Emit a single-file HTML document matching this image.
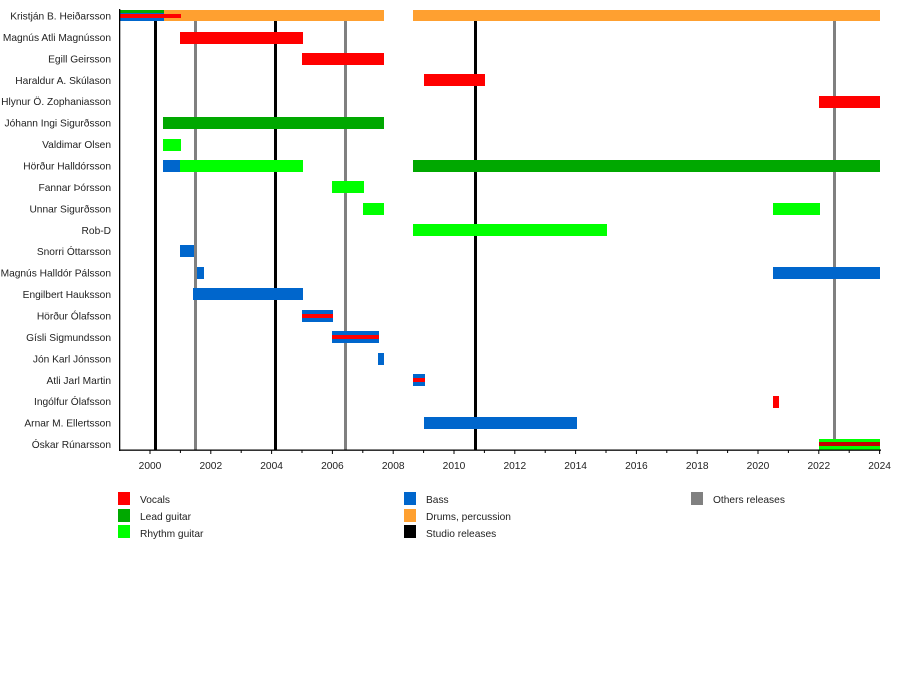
<!DOCTYPE html>
<html><head><meta charset="utf-8"><style>body{margin:0;background:#fff}svg{display:block}text{font-family:"Liberation Sans",sans-serif;font-size:10.2px;fill:#222}</style></head><body>
<svg width="900" height="690" xmlns="http://www.w3.org/2000/svg">
<g id="lines">
<rect x="154" y="10" width="3" height="440" fill="#000"/>
<rect x="274" y="10" width="3" height="440" fill="#000"/>
<rect x="474" y="10" width="3" height="440" fill="#000"/>
<rect x="194" y="10" width="3" height="440" fill="#808080"/>
<rect x="344" y="10" width="3" height="440" fill="#808080"/>
<rect x="833" y="10" width="3" height="440" fill="#808080"/>
</g>
<g id="bars">
<rect x="120" y="10" width="264" height="11" fill="#ffa030"/>
<rect x="413" y="10" width="467" height="11" fill="#ffa030"/>
<rect x="120" y="10" width="44" height="3" fill="#00a800"/>
<rect x="120" y="13" width="44" height="8" fill="#0066cc"/>
<rect x="120" y="14" width="61" height="4" fill="#f00"/>
<rect x="180" y="32" width="123" height="12" fill="#f00"/>
<rect x="302" y="53" width="82" height="12" fill="#f00"/>
<rect x="424" y="74" width="61" height="12" fill="#f00"/>
<rect x="819" y="96" width="61" height="12" fill="#f00"/>
<rect x="163" y="117" width="221" height="12" fill="#00a800"/>
<rect x="163" y="139" width="18" height="12" fill="#00ff00"/>
<rect x="163" y="160" width="17" height="12" fill="#0066cc"/>
<rect x="180" y="160" width="123" height="12" fill="#00ff00"/>
<rect x="413" y="160" width="467" height="12" fill="#00a800"/>
<rect x="332" y="181" width="32" height="12" fill="#00ff00"/>
<rect x="363" y="203" width="21" height="12" fill="#00ff00"/>
<rect x="773" y="203" width="47" height="12" fill="#00ff00"/>
<rect x="413" y="224" width="194" height="12" fill="#00ff00"/>
<rect x="180" y="245" width="14" height="12" fill="#0066cc"/>
<rect x="197" y="267" width="7" height="12" fill="#0066cc"/>
<rect x="773" y="267" width="107" height="12" fill="#0066cc"/>
<rect x="193" y="288" width="110" height="12" fill="#0066cc"/>
<rect x="302" y="310" width="31" height="12" fill="#0066cc"/>
<rect x="302" y="314" width="31" height="4" fill="#f00"/>
<rect x="332" y="331" width="47" height="12" fill="#0066cc"/>
<rect x="332" y="335" width="47" height="4" fill="#f00"/>
<rect x="378" y="353" width="6" height="12" fill="#0066cc"/>
<rect x="413" y="374" width="12" height="12" fill="#0066cc"/>
<rect x="413" y="378" width="12" height="4" fill="#f00"/>
<rect x="773" y="396" width="6" height="12" fill="#f00"/>
<rect x="424" y="417" width="153" height="12" fill="#0066cc"/>
<rect x="819" y="439" width="61" height="11" fill="#00ff00"/>
<rect x="819" y="442" width="61" height="4" fill="#c00000"/>
</g>
<g id="axes">
<rect x="119" y="9" width="1.3" height="442" fill="#000"/>
<rect x="119" y="449.5" width="762" height="1.3" fill="#000"/>
</g>
<g id="ticks" stroke="#000" stroke-width="1">
<line x1="150" y1="450" x2="150" y2="454"/><line x1="180.4" y1="450" x2="180.4" y2="453"/>
<line x1="210.8" y1="450" x2="210.8" y2="454"/><line x1="241.2" y1="450" x2="241.2" y2="453"/>
<line x1="271.6" y1="450" x2="271.6" y2="454"/><line x1="302" y1="450" x2="302" y2="453"/>
<line x1="332.4" y1="450" x2="332.4" y2="454"/><line x1="362.8" y1="450" x2="362.8" y2="453"/>
<line x1="393.2" y1="450" x2="393.2" y2="454"/><line x1="423.6" y1="450" x2="423.6" y2="453"/>
<line x1="454" y1="450" x2="454" y2="454"/><line x1="484.4" y1="450" x2="484.4" y2="453"/>
<line x1="514.8" y1="450" x2="514.8" y2="454"/><line x1="545.2" y1="450" x2="545.2" y2="453"/>
<line x1="575.6" y1="450" x2="575.6" y2="454"/><line x1="606" y1="450" x2="606" y2="453"/>
<line x1="636.4" y1="450" x2="636.4" y2="454"/><line x1="666.8" y1="450" x2="666.8" y2="453"/>
<line x1="697.2" y1="450" x2="697.2" y2="454"/><line x1="727.6" y1="450" x2="727.6" y2="453"/>
<line x1="758" y1="450" x2="758" y2="454"/><line x1="788.4" y1="450" x2="788.4" y2="453"/>
<line x1="818.8" y1="450" x2="818.8" y2="454"/><line x1="849.2" y1="450" x2="849.2" y2="453"/>
<line x1="879.6" y1="450" x2="879.6" y2="454"/>
</g>
<g text-anchor="middle">
<text x="150" y="469">2000</text><text x="210.8" y="469">2002</text><text x="271.6" y="469">2004</text>
<text x="332.4" y="469">2006</text><text x="393.2" y="469">2008</text><text x="454" y="469">2010</text>
<text x="514.8" y="469">2012</text><text x="575.6" y="469">2014</text><text x="636.4" y="469">2016</text>
<text x="697.2" y="469">2018</text><text x="758" y="469">2020</text><text x="818.8" y="469">2022</text>
<text x="879.6" y="469">2024</text>
</g>
<g text-anchor="end">
<text x="111" y="19.5">Kristján B. Heiðarsson</text>
<text x="111" y="41">Magnús Atli Magnússon</text>
<text x="111" y="62.4">Egill Geirsson</text>
<text x="111" y="83.8">Haraldur A. Skúlason</text>
<text x="111" y="105.2">Hlynur Ö. Zophaniasson</text>
<text x="111" y="126.7">Jóhann Ingi Sigurðsson</text>
<text x="111" y="148.1">Valdimar Olsen</text>
<text x="111" y="169.5">Hörður Halldórsson</text>
<text x="111" y="191">Fannar Þórsson</text>
<text x="111" y="212.4">Unnar Sigurðsson</text>
<text x="111" y="233.8">Rob-D</text>
<text x="111" y="255.2">Snorri Óttarsson</text>
<text x="111" y="276.7">Magnús Halldór Pálsson</text>
<text x="111" y="298.1">Engilbert Hauksson</text>
<text x="111" y="319.5">Hörður Ólafsson</text>
<text x="111" y="341">Gísli Sigmundsson</text>
<text x="111" y="362.4">Jón Karl Jónsson</text>
<text x="111" y="383.8">Atli Jarl Martin</text>
<text x="111" y="405.2">Ingólfur Ólafsson</text>
<text x="111" y="426.7">Arnar M. Ellertsson</text>
<text x="111" y="448">Óskar Rúnarsson</text>
</g>
<g id="legend">
<rect x="118" y="492" width="12" height="13" fill="#f00"/><text x="140" y="503">Vocals</text>
<rect x="118" y="509" width="12" height="13" fill="#00a800"/><text x="140" y="520">Lead guitar</text>
<rect x="118" y="525" width="12" height="13" fill="#00ff00"/><text x="140" y="537">Rhythm guitar</text>
<rect x="404" y="492" width="12" height="13" fill="#0066cc"/><text x="426" y="503">Bass</text>
<rect x="404" y="509" width="12" height="13" fill="#ffa030"/><text x="426" y="520">Drums, percussion</text>
<rect x="404" y="525" width="12" height="13" fill="#000"/><text x="426" y="537">Studio releases</text>
<rect x="691" y="492" width="12" height="13" fill="#808080"/><text x="713" y="503">Others releases</text>
</g>
</svg>
</body></html>
